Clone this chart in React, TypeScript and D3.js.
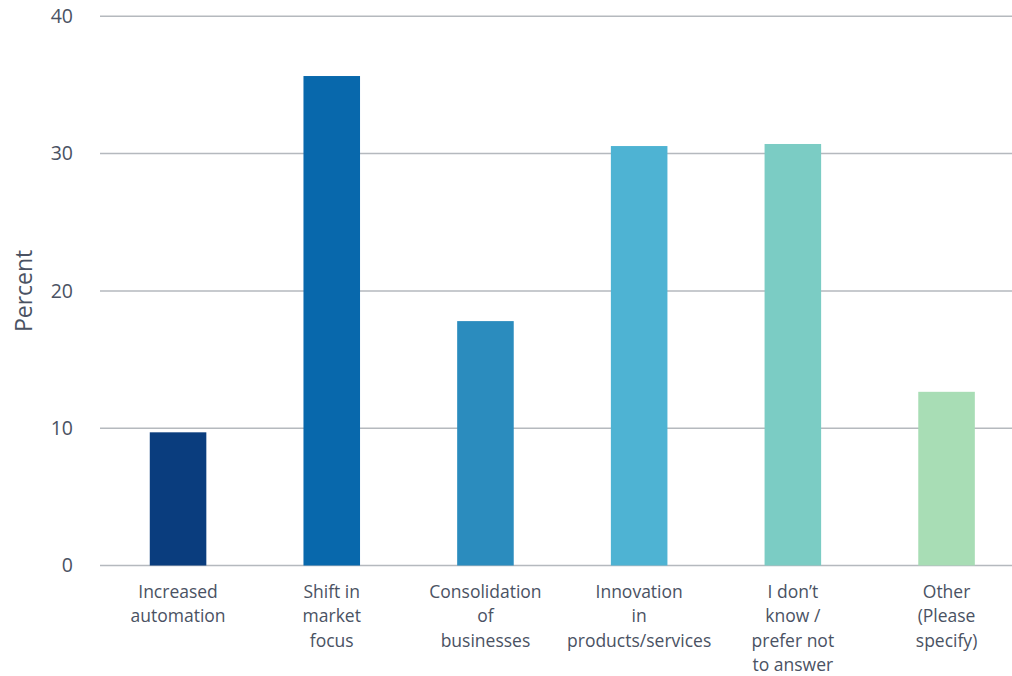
import React from "react";
import * as d3 from "d3";

const categories: string[][] = [
  ["Increased", "automation"],
  ["Shift in", "market", "focus"],
  ["Consolidation", "of", "businesses"],
  ["Innovation", "in", "products/services"],
  ["I don’t", "know /", "prefer not", "to answer"],
  ["Other", "(Please", "specify)"],
];
const values = [9.7, 35.65, 17.8, 30.55, 30.7, 12.65];
const colors = ["#0a3d7e", "#0868ac", "#2b8cbe", "#4eb3d3", "#7bccc4", "#a8ddb5"];
const yTicks = [0, 10, 20, 30, 40];
const yLabel = "Percent";

const W = 1012;
const H = 676;
const FONT = "'Open Sans', Lato, sans-serif";
const TEXT = "#4a5263";

export default function App() {
  const x = d3
    .scaleBand<number>()
    .domain(d3.range(values.length))
    .range([101.2, 1023.4])
    .paddingInner(0.632)
    .paddingOuter(0.316);
  const y = d3.scaleLinear().domain([0, 40]).range([565.5, 16.3]);

  return (
    <svg
      width={W}
      height={H}
      style={{ position: "absolute", left: 0, top: 0, background: "#fff" }}
      fontFamily={FONT}
    >
      {yTicks.map((t) => (
        <g key={t}>
          <line x1={100} x2={1012} y1={y(t)} y2={y(t)} stroke="#b5b9be" strokeWidth={1.5} />
          <text x={73} y={y(t)} dy="0.35em" textAnchor="end" fontSize={19.5} fill={TEXT}>
            {t}
          </text>
        </g>
      ))}
      {values.map((v, i) => (
        <rect
          key={i}
          x={x(i)}
          y={y(v)}
          width={x.bandwidth()}
          height={y(0) - y(v)}
          fill={colors[i]}
        />
      ))}
      {categories.map((lines, i) => (
        <text
          key={i}
          x={(x(i) as number) + x.bandwidth() / 2}
          y={598}
          textAnchor="middle"
          fontSize={17.5}
          fill={TEXT}
        >
          {lines.map((l, j) => (
            <tspan key={j} x={(x(i) as number) + x.bandwidth() / 2} dy={j === 0 ? 0 : 24.3}>
              {l}
            </tspan>
          ))}
        </text>
      ))}
      <text
        transform={`translate(32,${y(20)}) rotate(-90)`}
        textAnchor="middle"
        fontSize={23}
        fill={TEXT}
      >
        {yLabel}
      </text>
    </svg>
  );
}
